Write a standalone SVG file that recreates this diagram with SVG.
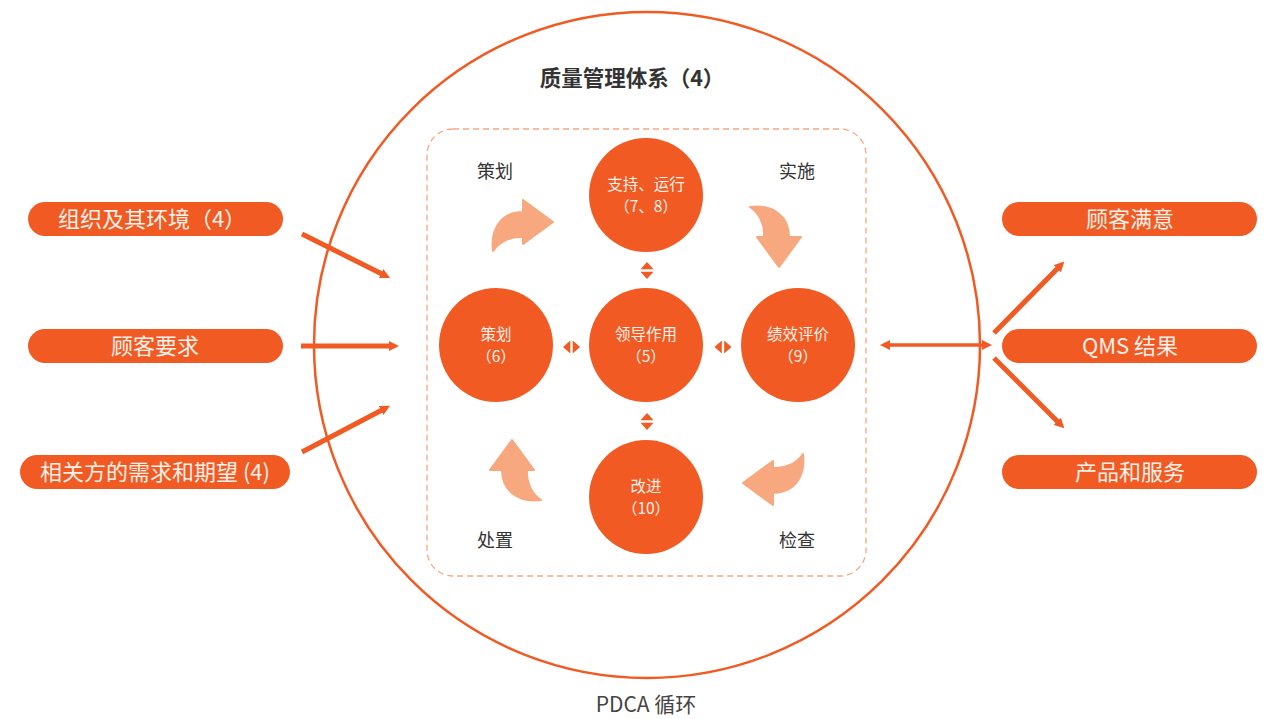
<svg xmlns="http://www.w3.org/2000/svg" xmlns:xlink="http://www.w3.org/1999/xlink" width="1274" height="719" viewBox="0 0 1274 719">
<style>
.t{font-family:"Noto Sans CJK SC","Noto Sans",sans-serif;}
.pill{fill:#F15A22;}
.pt{font-size:22px;fill:#FFF1EA;text-anchor:middle;}
.node{fill:#F15A22;}
.nt{font-size:15.5px;fill:#FFF1EA;text-anchor:middle;}
.lbl{font-size:18px;fill:#333;text-anchor:middle;}
.conn{stroke:#F15A22;stroke-width:5;fill:none;}
.curv{fill:#F7A87E;stroke:#F7A87E;stroke-width:2;stroke-linejoin:round;}
.da{fill:#F15A22;}
</style>
<defs>
<marker id="ah" markerWidth="10" markerHeight="10" refX="1" refY="5" orient="auto-start-reverse" markerUnits="userSpaceOnUse">
<path d="M0,0 L10,5 L0,10 Z" fill="#F15A22"/>
</marker>
<path id="curved" d="M493,251 C490,226 504,212 523,212 L523,200 L553,222 L523,244 L523,237 C510,236 499,242 493,251 Z"/>
<g id="dbl">
<path d="M-8.5,0 L-1.2,-6.5 L-1.2,6.5 Z"/>
<path d="M8.5,0 L1.2,-6.5 L1.2,6.5 Z"/>
</g>
</defs>
<rect width="1274" height="719" fill="#FFFFFF"/>

<g id="qms-circle">
<circle cx="647" cy="345" r="333" fill="none" stroke="#F15A22" stroke-width="2.5"/>
<text class="t" x="632" y="86" font-size="21.5" font-weight="bold" fill="#333" text-anchor="middle">质量管理体系（4）</text>
</g>

<g id="pdca-frame">
<rect x="427" y="129" width="439" height="447" rx="26" fill="none" stroke="#F7A87E" stroke-width="1.3" stroke-dasharray="6 4"/>
</g>

<g id="curved-arrows">
<use xlink:href="#curved" class="curv"/>
<use xlink:href="#curved" class="curv" transform="translate(1001,-286) rotate(90)"/>
<use xlink:href="#curved" class="curv" transform="translate(1296,705) rotate(180)"/>
<use xlink:href="#curved" class="curv" transform="translate(290,993) rotate(-90)"/>
</g>

<g id="labels">
<text class="t lbl" x="495" y="178">策划</text>
<text class="t lbl" x="797" y="178">实施</text>
<text class="t lbl" x="495" y="547">处置</text>
<text class="t lbl" x="797" y="547">检查</text>
</g>

<g id="node-support">
<circle class="node" cx="646" cy="195" r="57"/>
<text class="t nt" x="646" y="190">支持、运行</text>
<text class="t nt" x="646" y="212">（7、8）</text>
</g>
<g id="node-leadership">
<circle class="node" cx="646" cy="345" r="57"/>
<text class="t nt" x="646" y="340">领导作用</text>
<text class="t nt" x="646" y="362">（5）</text>
</g>
<g id="node-planning">
<circle class="node" cx="496" cy="345" r="57"/>
<text class="t nt" x="496" y="340">策划</text>
<text class="t nt" x="496" y="362">（6）</text>
</g>
<g id="node-evaluation">
<circle class="node" cx="798" cy="345" r="57"/>
<text class="t nt" x="798" y="340">绩效评价</text>
<text class="t nt" x="798" y="362">（9）</text>
</g>
<g id="node-improvement">
<circle class="node" cx="646" cy="497" r="57"/>
<text class="t nt" x="646" y="492">改进</text>
<text class="t nt" x="646" y="514">（10）</text>
</g>

<g id="input-context">
<rect class="pill" x="28" y="202" width="255" height="34" rx="17"/>
<text class="t pt" x="152" y="227">组织及其环境（4）</text>
</g>
<g id="input-customer">
<rect class="pill" x="28" y="329" width="255" height="34" rx="17"/>
<text class="t pt" x="155" y="354">顾客要求</text>
</g>
<g id="input-parties">
<rect class="pill" x="20" y="455" width="270" height="34" rx="17"/>
<text class="t pt" x="155" y="480">相关方的需求和期望 (4)</text>
</g>

<g id="output-satisfaction">
<rect class="pill" x="1002" y="202" width="255" height="34" rx="17"/>
<text class="t pt" x="1130" y="227">顾客满意</text>
</g>
<g id="output-results">
<rect class="pill" x="1002" y="329" width="255" height="34" rx="17"/>
<text class="t pt" x="1130" y="354">QMS 结果</text>
</g>
<g id="output-products">
<rect class="pill" x="1002" y="455" width="255" height="34" rx="17"/>
<text class="t pt" x="1130" y="480">产品和服务</text>
</g>

<g id="connectors">
<line class="conn" x1="302" y1="234" x2="382" y2="274" marker-end="url(#ah)"/>
<line class="conn" x1="301" y1="346" x2="390" y2="346" marker-end="url(#ah)"/>
<line class="conn" x1="302" y1="452" x2="382" y2="410" marker-end="url(#ah)"/>
<line class="conn" style="stroke-width:3.5" x1="889" y1="345" x2="983" y2="345" marker-start="url(#ah)" marker-end="url(#ah)"/>
<line class="conn" x1="994" y1="333" x2="1058" y2="268" marker-end="url(#ah)"/>
<line class="conn" x1="994" y1="358" x2="1058" y2="422" marker-end="url(#ah)"/>
<g class="da">
<use xlink:href="#dbl" transform="translate(571.5,347)"/>
<use xlink:href="#dbl" transform="translate(723,347)"/>
<use xlink:href="#dbl" transform="translate(647,270.5) rotate(90)"/>
<use xlink:href="#dbl" transform="translate(647,421.5) rotate(90)"/>
</g>
</g>

<g id="caption">
<text class="t" x="646" y="712" font-size="21" fill="#444" text-anchor="middle">PDCA 循环</text>
</g>
</svg>
